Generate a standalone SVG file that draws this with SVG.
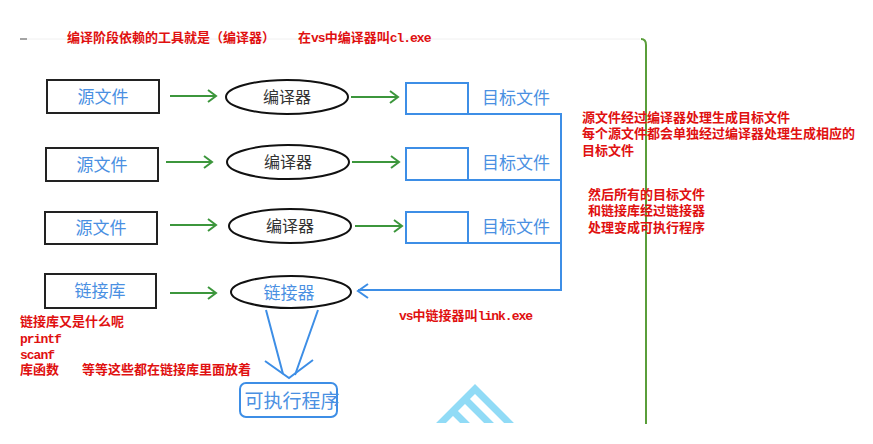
<svg xmlns="http://www.w3.org/2000/svg" width="873" height="444" viewBox="0 0 873 444">
<defs>
<style>
.box{fill:#fff;stroke:#222;stroke-width:2}
.tbox{fill:#fff;stroke:#3d8ee6;stroke-width:2}
.ell{fill:#fff;stroke:#111;stroke-width:2}
.g{stroke:#3c963c;stroke-width:2;fill:none}
.b{stroke:#3d8ee6;stroke-width:2;fill:none}
.lbl{font-family:"Noto Sans CJK SC",sans-serif;font-size:17px;fill:#4a90e2;text-anchor:middle}
.ctext{font-family:"Noto Sans CJK SC",sans-serif;font-size:16px;fill:#333;text-anchor:middle}
.red{font-family:"Liberation Mono","Noto Sans CJK SC",monospace;font-size:13px;fill:#e01010;font-weight:bold}
.lat{letter-spacing:-1px}
</style>
<clipPath id="clipb"><rect x="0" y="0" width="873" height="423"/></clipPath>
</defs>
<rect width="873" height="444" fill="#fff"/>
<!-- frame lines -->
<line x1="20" y1="39" x2="640" y2="39" stroke="#f0f0f0" stroke-width="1"/>
<line x1="20" y1="39" x2="27" y2="39" stroke="#888" stroke-width="1.5"/>
<path d="M641 39 Q646 39 646 45 L646 424" stroke="#5a9e3a" stroke-width="2" fill="none"/>
<!-- watermark -->
<g clip-path="url(#clipb)" stroke="#86d8f6" stroke-width="7" fill="none" opacity="0.9">
<path d="M432 432 L475 389 L512 426"/>
<path d="M453 411 L490 448 M465 399 L502 436"/>
</g>
<g id="connectors">
<g class="g">
<path d="M170 96 H216 M208 90 L216 96 L208 102"/>
<path d="M166 162 H212 M204 156 L212 162 L204 168"/>
<path d="M170 225 H216 M208 219 L216 225 L208 231"/>
<path d="M170 293 H216 M208 287 L216 293 L208 299"/>
<path d="M351 97 H398 M390 91 L398 97 L390 103"/>
<path d="M352 162 H399 M391 156 L399 162 L391 168"/>
<path d="M355 226 H402 M394 220 L402 226 L394 232"/>
</g>
<g class="b">
<path d="M468 114 H562 M468 180 H562 M468 243 H562 M561 114 V290 H358"/>
<path d="M368 284 L358 291 L368 298"/>
<path d="M266 310 L283 374 M318 310 L295 375"/>
<path d="M265 361 L289 378 L313 360"/>
</g>
</g>
<g id="src1"><rect class="box" x="47" y="80" width="112" height="33"/><text class="lbl" x="103" y="103">源文件</text></g>
<g id="src2"><rect class="box" x="46" y="148" width="112" height="33"/><text class="lbl" x="102" y="171">源文件</text></g>
<g id="src3"><rect class="box" x="45" y="212" width="112" height="32"/><text class="lbl" x="101" y="234">源文件</text></g>
<g id="lib"><rect class="box" x="45" y="274" width="111" height="34"/><text class="lbl" x="100" y="297">链接库</text></g>
<g id="cc1"><ellipse class="ell" cx="287" cy="97" rx="61" ry="17"/><text class="ctext" x="287" y="103">编译器</text></g>
<g id="cc2"><ellipse class="ell" cx="288" cy="162" rx="61" ry="17"/><text class="ctext" x="288" y="168">编译器</text></g>
<g id="cc3"><ellipse class="ell" cx="290" cy="226" rx="61" ry="17"/><text class="ctext" x="290" y="232">编译器</text></g>
<g id="linker"><ellipse class="ell" cx="291" cy="292" rx="60" ry="16"/><text class="lbl" x="289" y="299">链接器</text></g>
<g id="obj1"><rect class="tbox" x="406" y="83" width="62" height="31"/><text class="lbl" x="516" y="104">目标文件</text></g>
<g id="obj2"><rect class="tbox" x="406" y="148" width="62" height="32"/><text class="lbl" x="516" y="169">目标文件</text></g>
<g id="obj3"><rect class="tbox" x="406" y="212" width="62" height="31"/><text class="lbl" x="516" y="233">目标文件</text></g>
<g id="exe"><rect class="tbox" x="240" y="383" width="97" height="34" rx="6"/><text class="lbl" x="292" y="408" style="font-size:19px">可执行程序</text></g>
<g id="notes">
<text class="red" x="67" y="42">编译阶段依赖的工具就是（编译器）</text>
<text class="red" x="298" y="42">在<tspan class="lat">vs</tspan>中编译器叫<tspan class="lat">cl.exe</tspan></text>
<text class="red" x="582" y="122">源文件经过编译器处理生成目标文件</text>
<text class="red" x="582" y="138">每个源文件都会单独经过编译器处理生成相应的</text>
<text class="red" x="582" y="155">目标文件</text>
<text class="red" x="588" y="199">然后所有的目标文件</text>
<text class="red" x="588" y="215">和链接库经过链接器</text>
<text class="red" x="588" y="232">处理变成可执行程序</text>
<text class="red" x="399" y="320"><tspan class="lat">vs</tspan>中链接器叫<tspan class="lat">link.exe</tspan></text>
<text class="red" x="20" y="326">链接库又是什么呢</text>
<text class="red lat" x="20" y="343">printf</text>
<text class="red lat" x="20" y="359">scanf</text>
<text class="red" x="20" y="374">库函数</text>
<text class="red" x="82" y="374">等等这些都在链接库里面放着</text>
</g>
</svg>
